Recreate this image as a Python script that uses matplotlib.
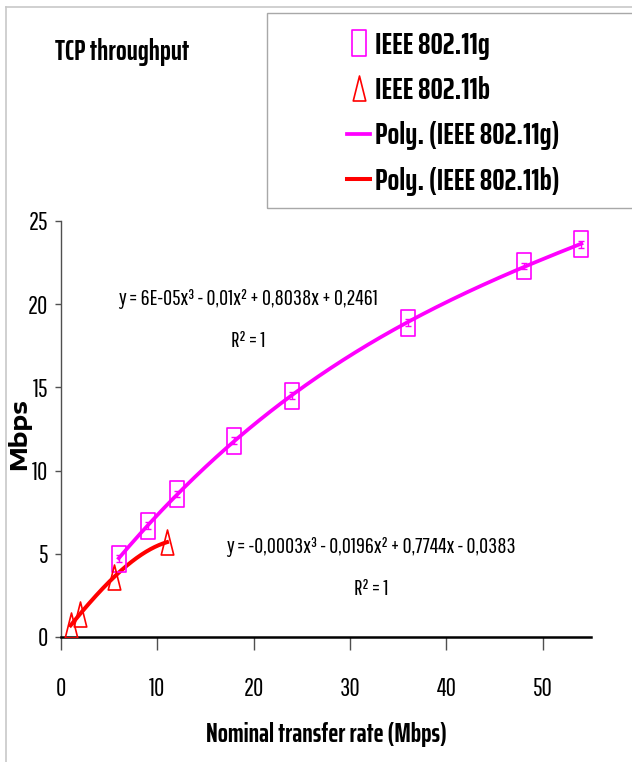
import numpy as np
import matplotlib
matplotlib.use("Agg")
import matplotlib.pyplot as plt
from matplotlib.lines import Line2D
from matplotlib.patches import Rectangle
from matplotlib.path import Path

# ---- data ----
g_rate = [6, 9, 12, 18, 24, 36, 48, 54]
g_tput = [4.7, 6.7, 8.6, 11.8, 14.5, 18.9, 22.3, 23.6]
g_err = [0.2, 0.2, 0.2, 0.2, 0.2, 0.2, 0.2, 0.2]
b_rate = [1, 2, 5.5, 11]
b_tput = [0.7, 1.4, 3.6, 5.7]
x_ticks = [0, 10, 20, 30, 40, 50]
y_ticks = [0, 5, 10, 15, 20, 25]
labels = ["IEEE 802.11g", "IEEE 802.11b", "Poly. (IEEE 802.11g)", "Poly. (IEEE 802.11b)"]
eq_g = "y = 6E-05x³ - 0,01x² + 0,8038x + 0,2461"
eq_b = "y = -0,0003x³ - 0,0196x² + 0,7744x - 0,0383"
r2_text = "R² = 1"
title = "TCP throughput"
xlabel = "Nominal transfer rate (Mbps)"
ylabel = "Mbps"

REG = ["Pathway Gothic One", "Fira Sans Extra Condensed", "Liberation Sans", "DejaVu Sans"]
BOLD = ["Saira ExtraCondensed", "Fira Sans Extra Condensed", "Liberation Sans", "DejaVu Sans"]
EXP = ["Encode Sans Expanded", "Liberation Sans", "DejaVu Sans"]
MAG = "#ff00ff"
RED = "#ff0000"

W, H = 632, 762
PT = 100 / 72.0
fig = plt.figure(figsize=(W / 100, H / 100), dpi=100)
fig.canvas.draw()
R = fig.canvas.get_renderer()


def fx(px):
    return px / W


def fy(py):
    return 1 - py / H


def fit_size(s, family, weight, target, vertical=False):
    t = fig.text(0, 0, s, family=family, fontweight=weight, fontsize=20,
                 rotation=90 if vertical else 0)
    bb = t.get_window_extent(R)
    t.remove()
    return 20 * target / (bb.height if vertical else bb.width)


tick_fs = fit_size("40", REG, "normal", 20)
eq_fs = fit_size(eq_g, REG, "normal", 262)
title_fs = fit_size(title, BOLD, "bold", 134)
xl_fs = fit_size(xlabel, BOLD, "bold", 242)
leg_fs = fit_size(labels[0], BOLD, "bold", 115)
yl_fs = fit_size(ylabel, EXP, "bold", 72, vertical=True)

ax = fig.add_axes([fx(61), fy(637), fx(591) - fx(61), fy(221) - fy(637)])
ax.set_xlim(0, 55)
ax.set_ylim(0, 25)

rect_marker = Path([(-1, -2), (1, -2), (1, 2), (-1, 2), (-1, -2)],
                   [Path.MOVETO, Path.LINETO, Path.LINETO, Path.LINETO, Path.CLOSEPOLY])
tri_marker = Path([(-1, -2), (1, -2), (0, 2), (-1, -2)],
                  [Path.MOVETO, Path.LINETO, Path.LINETO, Path.CLOSEPOLY])

# cubic polynomial trend lines, as in the original
cg = np.polyfit(g_rate, g_tput, 3)
xg = np.linspace(min(g_rate), max(g_rate), 300)
cb = np.polyfit(b_rate, b_tput, 3)
xb = np.linspace(min(b_rate), max(b_rate), 300)

lg, = ax.plot(xg, np.polyval(cg, xg), color=MAG, lw=2.7, zorder=3)
lb, = ax.plot(xb, np.polyval(cb, xb), color=RED, lw=2.9, zorder=3)

ax.errorbar(g_rate, g_tput, yerr=g_err, fmt="none", ecolor=MAG, elinewidth=1.0,
            capsize=2.5, capthick=1.0, zorder=4)
pg, = ax.plot(g_rate, g_tput, linestyle="none", marker=rect_marker, ms=19,
              mfc="none", mec=MAG, mew=1.2, zorder=5)
pb, = ax.plot(b_rate, b_tput, linestyle="none", marker=tri_marker, ms=18,
              mfc="none", mec=RED, mew=1.2, zorder=5)

# axes styling
for s in ["top", "right"]:
    ax.spines[s].set_visible(False)
ax.spines["left"].set_color("#505050")
ax.spines["left"].set_linewidth(1.0)
ax.spines["bottom"].set_color("#000000")
ax.spines["bottom"].set_linewidth(1.8)
ax.set_xticks(x_ticks)
ax.set_yticks(y_ticks)
ax.tick_params(axis="x", direction="out", length=9, width=1.0, color="#505050", pad=15)
ax.tick_params(axis="y", direction="out", length=4, width=1.0, color="#505050", pad=6)
for lab in ax.get_xticklabels() + ax.get_yticklabels():
    lab.set_family(REG)
    lab.set_fontsize(tick_fs)

# equations and R^2 (positions in data units)
ax.text(19.4, 19.95, eq_g, family=REG, fontsize=eq_fs, ha="center", va="baseline")
ax.text(19.4, 17.45, r2_text, family=REG, fontsize=eq_fs, ha="center", va="baseline")
ax.text(32.2, 5.05, eq_b, family=REG, fontsize=eq_fs, ha="center", va="baseline")
ax.text(32.2, 2.55, r2_text, family=REG, fontsize=eq_fs, ha="center", va="baseline")

# titles
fig.text(fx(55), fy(60), title, family=BOLD, fontsize=title_fs, fontweight="bold",
         ha="left", va="baseline")
fig.text(fx(326), fy(742), xlabel, family=BOLD, fontsize=xl_fs, fontweight="bold",
         ha="center", va="baseline")
fig.text(fx(19), fy(434), ylabel, family=EXP, fontsize=yl_fs, fontweight="bold",
         ha="center", va="center", rotation=90)

# figure border (left & top) and legend frame
fig.add_artist(Line2D([fx(6), fx(6)], [fy(7), 0], color="#c8c8c8", lw=1.2))
fig.add_artist(Line2D([fx(6), 1], [fy(7), fy(7)], color="#c8c8c8", lw=1.2))
fig.add_artist(Rectangle((fx(267), fy(208)), 1 - fx(267) + 0.05, fy(13) - fy(208),
                         transform=fig.transFigure, fill=False, ec="#a8a8a8", lw=1.0))

# ---- tune tick label pads to the reference positions ----
fig.canvas.draw()
xt = ax.get_xticklabels()[0].get_window_extent(R)
dx_top = xt.y1 - (H - 677)
ax.tick_params(axis="x", pad=15 + dx_top / PT)
yt = ax.get_yticklabels()[-1].get_window_extent(R)
dy_right = yt.x1 - 48
ax.tick_params(axis="y", pad=6 + dy_right / PT)

# ---- legend ----
fs_px = leg_fs * PT
leg_args = dict(handles=[pg, pb, lg, lb], labels=labels, loc="upper left",
                bbox_transform=fig.transFigure, frameon=False, borderpad=0,
                borderaxespad=0, handlelength=23 / fs_px, handletextpad=5 / fs_px,
                prop={"family": BOLD, "size": leg_fs, "weight": "bold"})
ls0 = 0.5
pitch_target = 45.5
anchor = [347.0, 20.0]
leg = fig.legend(bbox_to_anchor=(fx(anchor[0]), fy(anchor[1])), labelspacing=ls0, **leg_args)
fig.canvas.draw()
bbs = [t.get_window_extent(R) for t in leg.get_texts()]
pitch0 = (bbs[0].y0 - bbs[-1].y0) / 3
ls = ls0 + (pitch_target - pitch0) / fs_px
leg.remove()
leg = fig.legend(bbox_to_anchor=(fx(anchor[0]), fy(anchor[1])), labelspacing=ls, **leg_args)
fig.canvas.draw()
b0 = leg.get_texts()[0].get_window_extent(R)
cy = H - (b0.y0 + b0.y1) / 2
anchor[1] += 45 - cy
anchor[0] += 375 - b0.x0
leg.remove()
leg = fig.legend(bbox_to_anchor=(fx(anchor[0]), fy(anchor[1])), labelspacing=ls, **leg_args)

fig.savefig("out.png", dpi=100)
